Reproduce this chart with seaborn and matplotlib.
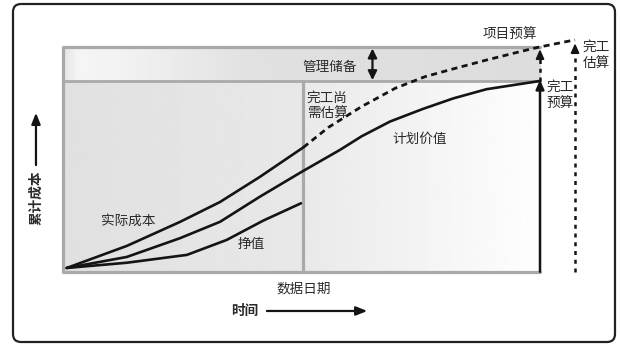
import numpy as np
import matplotlib
matplotlib.use('Agg')
import matplotlib.pyplot as plt
import seaborn as sns
from matplotlib.patches import FancyBboxPatch
from matplotlib.transforms import IdentityTransform

# 시간축: 0=시작, 50=数据日期, 100=完工 / 비용축: 100=完工预算(BAC)
ac_t = [0, 12.7, 23.9, 32.4, 40.8, 50]
ac_c = [0, 11.8, 24.6, 35.3, 48.7, 64.5]
ev_t = [0, 12.7, 25.4, 33.8, 41.5, 49.5]
ev_c = [0, 2.8, 7, 15, 25.3, 34.6]
pv_t = [0, 12.7, 23.9, 32.4, 40.8, 49.7, 57.7, 62.3, 68.3, 75.2, 81.7, 88.7, 100]
pv_c = [0, 5.9, 15.9, 24.7, 38.1, 51.5, 63.1, 70.4, 78.3, 85, 90.7, 95.6, 100]
etc_t = [50, 55.3, 62.3, 69.4, 75.7, 81.7, 88.7, 95.8, 99.6, 107.4]
etc_c = [64.5, 75.2, 86.3, 96.1, 102.3, 106.5, 111.2, 115.7, 118, 122]

data_date = 50
bac_t, bac = 100, 100
eac_t, eac = 107.4, 122
budget = 118          # 项目预算 = BAC + 管理储备

sns.set_theme(style='white')
plt.rcParams['font.family'] = ['Noto Sans CJK SC', 'DejaVu Sans']

TXT = '#2b2b2b'
INK = '#141414'
FRAME = '#a9a9a9'
FS = 9.8

fig = plt.figure(figsize=(6.2, 3.51), dpi=100)
ax = fig.add_axes([0, 0, 1, 1])
ax.set_axis_off()

x_left, y_bot = -0.8, -2

# ── 배경 그라데이션 ──
def grad(x0, x1, y0, y1, stops_x, stops_v):
    xs = np.linspace(0, 1, 200)
    row = np.interp(xs, stops_x, stops_v)
    ax.imshow(row[None, :], cmap='gray', vmin=0, vmax=1, aspect='auto',
              extent=[x0, x1, y0, y1], interpolation='bicubic', zorder=0)

grad(x_left, data_date, y_bot, bac, [0, 1], [0.88, 0.91])
grad(data_date, bac_t, y_bot, bac, [0, 1], [0.915, 0.995])
grad(x_left, bac_t, bac, budget, [0, 0.03, 0.12, 0.4, 1], [0.90, 0.96, 0.95, 0.88, 0.865])

# ── 회색 테두리 ──
ax.plot([x_left, x_left], [y_bot, budget], color=FRAME, lw=2.3, zorder=1, solid_capstyle='butt')
ax.plot([x_left, bac_t], [budget, budget], color=FRAME, lw=2.3, zorder=1)
ax.plot([x_left, bac_t], [bac, bac], color=FRAME, lw=2.0, zorder=1)
ax.plot([x_left, bac_t], [y_bot, y_bot], color=FRAME, lw=2.3, zorder=1)
ax.plot([data_date, data_date], [y_bot, bac], color=FRAME, lw=2.3, zorder=1)

# ── 곡선 ──
line_kw = dict(ax=ax, color=INK, sort=False, estimator=None, zorder=3)
sns.lineplot(x=ac_t, y=ac_c, lw=1.9, **line_kw)
sns.lineplot(x=pv_t, y=pv_c, lw=1.9, **line_kw)
sns.lineplot(x=ev_t, y=ev_c, lw=1.9, **line_kw)
sns.lineplot(x=etc_t, y=etc_c, lw=2.0, linestyle=(0, (2.2, 1.6)), **line_kw)

# ── 화살표 ──
HEAD = '-|>,head_length=0.45,head_width=0.2'
ax.annotate('', xy=(bac_t, bac + 0.6), xytext=(bac_t, y_bot),
            arrowprops=dict(arrowstyle=HEAD, lw=1.8, color=INK, shrinkA=0, shrinkB=0), zorder=4)
ax.plot([bac_t, bac_t], [bac, budget - 3], color=INK, lw=1.8, linestyle=(0, (1.6, 1.9)), zorder=4)
ax.annotate('', xy=(bac_t, budget - 1), xytext=(bac_t, budget - 4),
            arrowprops=dict(arrowstyle=HEAD, lw=1.4, color=INK, shrinkA=0, shrinkB=0), zorder=4)
ax.plot([eac_t, eac_t], [y_bot, eac - 5], color=INK, lw=1.8, linestyle=(0, (1.6, 1.9)), zorder=4)
ax.annotate('', xy=(eac_t, eac - 1.8), xytext=(eac_t, eac - 5),
            arrowprops=dict(arrowstyle=HEAD, lw=1.4, color=INK, shrinkA=0, shrinkB=0), zorder=4)
ax.annotate('', xy=(64.6, budget - 0.6), xytext=(64.6, bac + 0.4),
            arrowprops=dict(arrowstyle='<|-|>,head_length=0.45,head_width=0.22',
                            lw=1.6, color=INK, shrinkA=0, shrinkB=0), zorder=4)

# 좌표축 화살표
ax.annotate('', xy=(-6.5, 83), xytext=(-6.5, 55),
            arrowprops=dict(arrowstyle='-|>,head_length=0.55,head_width=0.22',
                            lw=1.6, color=INK, shrinkA=0, shrinkB=0))
ax.text(-6.5, 37.4, '累计成本', rotation=90, ha='center', va='center',
        fontsize=FS, fontweight='bold', color=TXT)
ax.annotate('', xy=(63.5, -23), xytext=(42.3, -23),
            arrowprops=dict(arrowstyle='-|>,head_length=0.55,head_width=0.22',
                            lw=1.6, color=INK, shrinkA=0, shrinkB=0))
ax.text(37.7, -23, '时间', ha='center', va='center', fontsize=FS, fontweight='bold', color=TXT)

# ── 라벨 ──
ax.text(13, 25, '实际成本', ha='center', va='center', fontsize=FS, color=TXT)
ax.text(38.9, 12.8, '挣值', ha='center', va='center', fontsize=FS, color=TXT)
ax.text(74.6, 68.8, '计划价值', ha='center', va='center', fontsize=FS, color=TXT)
ax.text(50.7, 87, '完工尚\n需估算', ha='left', va='center', fontsize=FS, color=TXT, linespacing=1.15)
ax.text(55.5, 107.3, '管理储备', ha='center', va='center', fontsize=FS, color=TXT)
ax.text(93.6, 125, '项目预算', ha='center', va='center', fontsize=FS, color=TXT)
ax.text(101.3, 92.5, '完工\n预算', ha='left', va='center', fontsize=FS, color=TXT, linespacing=1.15)
ax.text(109.0, 114, '完工\n估算', ha='left', va='center', fontsize=FS, color=TXT, linespacing=1.15)
ax.text(data_date, -11.2, '数据日期', ha='center', va='center', fontsize=FS, color=TXT)

ax.set_xlim(-14.1, 116.9)
ax.set_ylim(-44.4, 143.3)

# 바깥 둥근 테두리 (픽셀 좌표)
fig.add_artist(FancyBboxPatch((13, 9), 602, 338, boxstyle='round,pad=0,rounding_size=8',
                              transform=IdentityTransform(), fill=False, lw=1.6, ec='#222222'))

fig.savefig('out.png', dpi=100)
